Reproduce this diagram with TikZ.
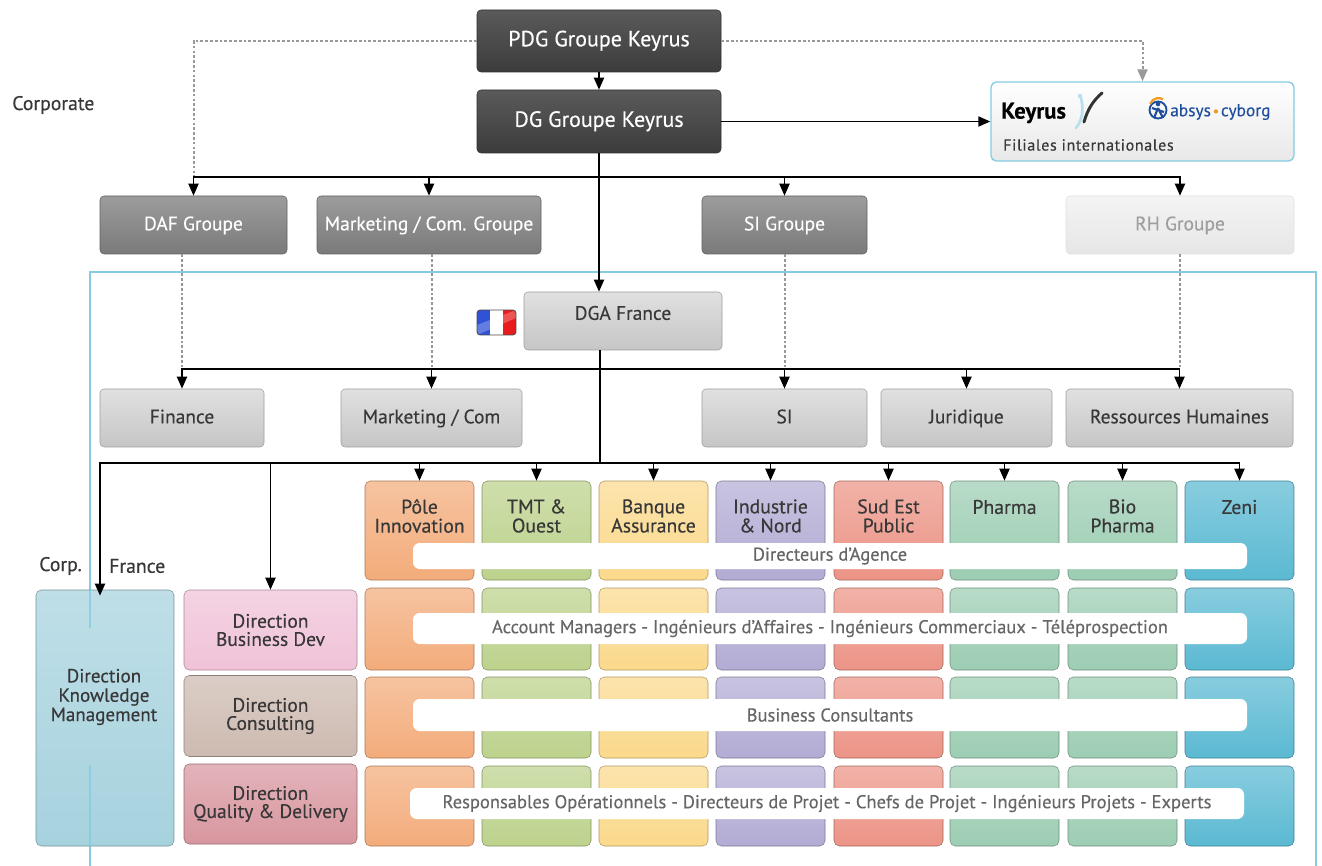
\documentclass[tikz,border=0pt]{standalone}
\usepackage{fontspec}
\setmainfont{PT Sans}[FakeBold=0.35]
\usetikzlibrary{arrows.meta,calc}
\definecolor{dkT}{HTML}{5A5A5A}
\definecolor{dkB}{HTML}{3C3C3C}
\definecolor{mdT}{HTML}{9C9C9C}
\definecolor{mdB}{HTML}{7A7A7A}
\definecolor{ltT}{HTML}{E0E0E0}
\definecolor{ltB}{HTML}{C6C6C6}
\definecolor{vlT}{HTML}{F4F4F4}
\definecolor{vlB}{HTML}{E6E6E6}
\definecolor{txt}{HTML}{383838}
\definecolor{bartxt}{HTML}{666666}
\definecolor{frm}{HTML}{86CBE2}
\definecolor{orn}{HTML}{F3AC7B}
\definecolor{grn}{HTML}{BCD28C}
\definecolor{yel}{HTML}{FBD98C}
\definecolor{pur}{HTML}{B2ACD4}
\definecolor{sal}{HTML}{EC9486}
\definecolor{pha}{HTML}{9CCDB2}
\definecolor{zen}{HTML}{5AB9D2}
\definecolor{kmc}{HTML}{A6D2DE}
\definecolor{bdc}{HTML}{F0C2D8}
\definecolor{coc}{HTML}{CDBAB0}
\definecolor{qdc}{HTML}{D8969F}
\definecolor{kblue}{HTML}{1F4E9E}
\definecolor{korange}{HTML}{F39A1E}
\definecolor{flagb}{HTML}{2F52D6}
\definecolor{flagr}{HTML}{E81C1C}
\tikzset{
  arr/.style={-{Triangle[length=9pt,width=7.5pt]}, line width=1.4pt, black},
  con/.style={line width=1.4pt, black},
  dotl/.style={draw=black!40, line width=1.5pt, dash pattern=on 2pt off 1.6pt},
  dotarr/.style={dotl, -{Triangle[length=9pt,width=7.5pt]}},
  wh/.style 2 args={minimum width=#1*0.75pt, minimum height=#2*0.75pt},
  box/.style 2 args={rounded corners=3pt, top color=#1, bottom color=#2, draw=#2!80!black, line width=0.4pt, inner sep=0pt, align=center, text height=11pt, text depth=3pt},
  dkbox/.style={box={dkT}{dkB}, text=white, font=\fontsize{16.5}{18}\selectfont},
  mdbox/.style={box={mdT}{mdB}, text=white, font=\fontsize{14.6}{16}\selectfont},
  ltbox/.style={box={ltT}{ltB}, text=txt, font=\fontsize{14.6}{16}\selectfont},
  vlbox/.style={box={vlT}{vlB}, draw=black!12, text=black!38, font=\fontsize{14.6}{16}\selectfont},
  cell/.style={rounded corners=4pt, top color=#1!72!white, bottom color=#1, draw=#1!70!black, line width=0.4pt, inner sep=0pt},
  dirbox/.style={cell=#1, text=txt, align=center, font=\fontsize{14.6}{13.6}\selectfont},
  lab/.style={text=txt, align=center, inner sep=0pt, font=\fontsize{14.8}{14.3}\selectfont},
  wbar/.style={fill=white, rounded corners=5pt, inner sep=0pt, text=bartxt, font=\fontsize{13.9}{15}\selectfont},
  side/.style={text=txt, inner sep=0pt, font=\fontsize{14.8}{16}\selectfont},
  frame/.style={draw=frm, line width=0.8pt}
}
\begin{document}
\begin{tikzpicture}[x=0.75pt,y=-0.75pt]
\useasboundingbox (0,0) rectangle (1322,866);
\fill[white] (0,0) rectangle (1322,866);

% blue frame (France scope)
\draw[frame] (90,866) -- (90,272) -- (1316,272) -- (1316,866);

% corporate level
\node[dkbox, wh={244}{62}] (pdg) at (599,41) {PDG Groupe Keyrus};
\node[dkbox, wh={244}{63}] (dg) at (599,121.5) {DG Groupe Keyrus};
\node[rounded corners=4pt, top color=white, bottom color=black!9, draw=frm, line width=1pt, wh={303}{79}] (fil) at (1142.5,121.5) {};
\node[mdbox, wh={187}{58}] (daf) at (193.5,225) {DAF Groupe};
\node[mdbox, wh={224}{58}] (mkg) at (429,225) {Marketing / Com. Groupe};
\node[mdbox, wh={165}{58}] (sig) at (784.5,225) {SI Groupe};
\node[vlbox, wh={228}{58}] (rhg) at (1180,225) {RH Groupe};

% logos in Filiales box
\node[anchor=west, inner sep=0pt, font=\fontsize{17}{17}\selectfont\bfseries] (keyrus) at (1001,113) {Keyrus};
\draw[frm!60, line width=2pt, line cap=round] (1076,128) .. controls (1084,118) and (1083,106) .. (1081,98);
\draw[black!80, line width=2.2pt, line cap=round] (1084,122) .. controls (1088,108) and (1094,100) .. (1102,93);
\fill[frm!60] (1080,96) circle (2.2);
\draw[kblue, line width=1.4pt] (1158,110) circle (8.5);
\draw[korange, line width=1.6pt] (1150,104) arc (200:300:9);
\fill[kblue] (1158,104) circle (2.3);
\draw[kblue, line width=1.6pt] (1152,108) -- (1164,112) (1158,108) -- (1154,118) (1158,108) -- (1163,118);
\node[anchor=west, inner sep=0pt, text=kblue, font=\fontsize{13}{13}\selectfont] (absys) at (1170,112) {absys\,\raisebox{2pt}{\textcolor{korange}{\tikz\fill (0,0) circle (1.6pt);}}\,cyborg};
\node[anchor=west, inner sep=0pt, text=txt, font=\fontsize{12}{13}\selectfont\addfontfeatures{LetterSpace=4}] (filtxt) at (1003,145) {Filiales internationales};

% labels
\node[side, anchor=west] (corp) at (12,105) {Corporate};
\node[side, anchor=west] (corpb) at (39,566) {Corp.};
\node[side, anchor=west] (frb) at (109,566) {France};

% France level
\node[box={ltT}{ltB}, wh={198}{58}] (dga) at (623,321) {};
\node[text=txt, inner sep=0pt, font=\fontsize{14.6}{16}\selectfont] (dgat) at (623,313) {DGA France};
\begin{scope}
\clip[rounded corners=2.5pt] (477,310) rectangle (516,335);
\fill[flagb] (477,310) rectangle (490,335);
\fill[white] (490,310) rectangle (503,335);
\fill[flagr] (503,310) rectangle (516,335);
\fill[white, opacity=0.25] (477,335) -- (477,325) -- (516,310) -- (516,318) -- cycle;
\end{scope}
\draw[black!70, line width=0.7pt, rounded corners=2.5pt] (477,310) rectangle (516,335);
\node[ltbox, wh={164}{58}] (fin) at (182,418) {Finance};
\node[ltbox, wh={181}{58}] (mkc) at (431.5,418) {Marketing / Com};
\node[ltbox, wh={165}{58}] (si) at (784.5,418) {SI};
\node[ltbox, wh={171}{58}] (jur) at (966.5,418) {Juridique};
\node[ltbox, wh={227}{58}] (rh) at (1179.5,418) {Ressources Humaines};

% directions
\node[cell=kmc, wh={138}{256}] (km) at (105,718) {};
\draw[frame, opacity=0.8] (90,590) -- (90,628) (90,765) -- (90,846);
\node[lab, font=\fontsize{14.3}{14.5}\selectfont] (kmt) at (104,697) {Direction\\Knowledge\\Management};
\node[dirbox=bdc, wh={173}{80}] (bd) at (270.5,630) {Direction\\Business Dev};
\node[dirbox=coc, wh={173}{81}] (cons) at (270.5,716) {Direction\\Consulting};
\node[dirbox=qdc, wh={173}{80}] (qd) at (270.5,804) {Direction\\Quality \& Delivery};

% grid
\foreach \x/\c [count=\i] in {419.5/orn,536.5/grn,653.5/yel,770.5/pur,888.5/sal,1004.5/pha,1122.5/pha,1239.5/zen}{
  \node[cell=\c, wh={109}{99}] (cA\i) at (\x,530.5) {};
  \node[cell=\c, wh={109}{82}] (cB\i) at (\x,629) {};
  \node[cell=\c, wh={109}{81}] (cC\i) at (\x,717.5) {};
  \node[cell=\c, wh={109}{80}] (cD\i) at (\x,806) {};
}
\node[lab] (l1) at (419.5,516) {Pôle\\Innovation};
\node[lab] (l2) at (536.5,516) {TMT \&\\Ouest};
\node[lab] (l3) at (653.5,516) {Banque\\Assurance};
\node[lab] (l4) at (770.5,516) {Industrie\\\& Nord};
\node[lab] (l5) at (888.5,516) {Sud Est\\Public};
\node[lab] (l6) at (1004.5,507) {Pharma};
\node[lab] (l7) at (1122.5,516) {Bio\\Pharma};
\node[lab] (l8) at (1239.5,507) {Zeni};

\node[wbar, wh={834}{26}] (b1) at (830,556) {Directeurs d’Agence};
\node[wbar, wh={834}{31}] (b2) at (830,628.5) {Account Managers - Ingénieurs d’Affaires - Ingénieurs Commerciaux - Téléprospection};
\node[wbar, wh={834}{32}] (b3) at (830,715) {Business Consultants};
\node[wbar, wh={834}{31}] (b4) at (827,803.5) {Responsables Opérationnels - Directeurs de Projet - Chefs de Projet - Ingénieurs Projets - Experts};

% junctions
\coordinate (j1) at (600,177);
\coordinate (j3) at (600,369);
\coordinate (j2) at (600,463);

% dotted links
\draw[dotl] (pdg.west) -| (j1 -| daf.north);
\draw[dotarr] (pdg.east) -| (fil.north);
\draw[dotl] (fin.north |- daf.south) -- (fin.north |- j3);
\draw[dotl] (mkc.north |- mkg.south) -- (mkc.north |- j3);
\draw[dotl] (si.north |- sig.south) -- (si.north |- j3);
\draw[dotl] (rh.north |- rhg.south) -- (rh.north |- j3);

% solid links
\draw[arr] (pdg.south) -- (dg.north);
\draw[arr] (dg.east) -- (fil.west |- dg.east);
\draw[arr] (dg.south) -- (dg.south |- dga.north);
\foreach \n in {daf,mkg,sig,rhg} \draw[arr] (j1) -| (\n.north);
\draw[con] (j2 |- dga.south) -- (j2);
\foreach \n in {fin,mkc,si,jur,rh} \draw[arr] (j3) -| (\n.north);
\draw[arr] (j2) -| ($(km.north)+(-5,6)$);
\draw[arr] (j2) -| (bd.north);
\foreach \i in {1,...,8} \draw[arr] (j2) -| (cA\i.north);
\end{tikzpicture}
\end{document}
